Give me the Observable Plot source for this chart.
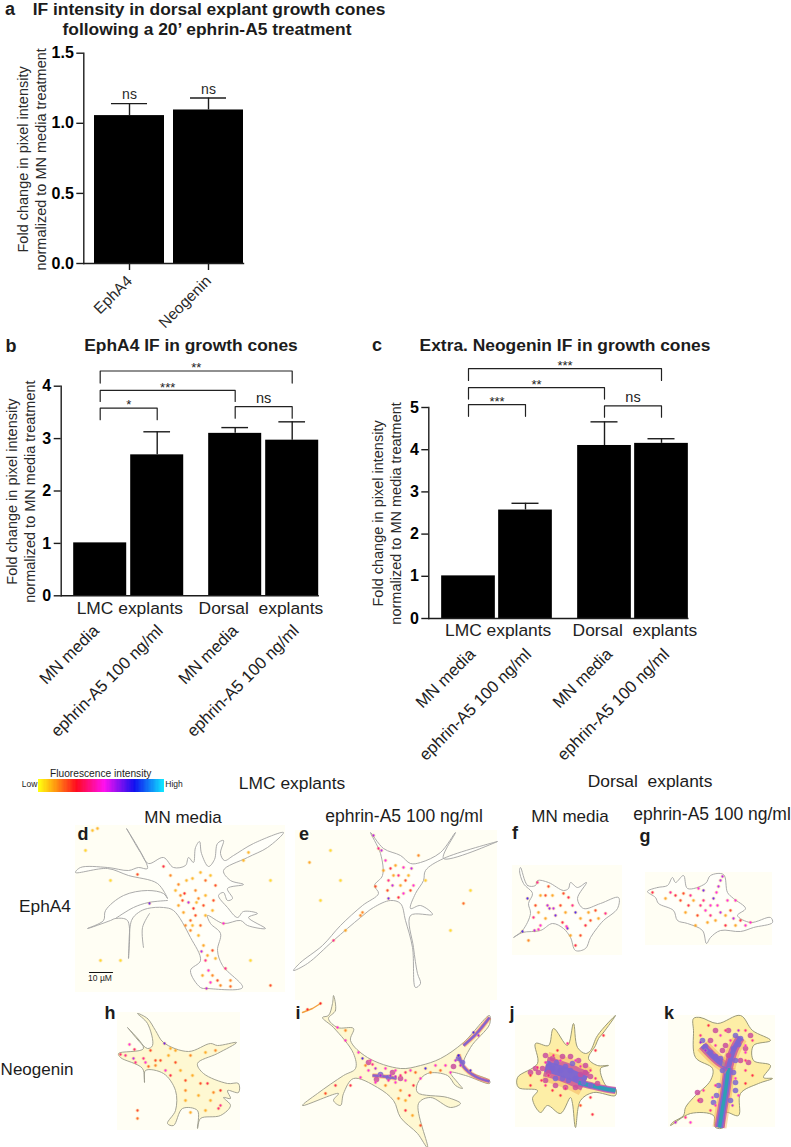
<!DOCTYPE html>
<html><head><meta charset="utf-8">
<script src="https://cdn.jsdelivr.net/npm/d3@7"></script>
<script src="https://cdn.jsdelivr.net/npm/@observablehq/plot@0.6"></script>
<style>
html,body{margin:0;padding:0;background:#fff}
#page{position:relative;width:791px;height:1147px;overflow:hidden;font-family:"Liberation Sans",Arial,sans-serif;color:#1c1c1c}
#page>svg{position:absolute}
.t{position:absolute;white-space:pre;transform:translate(-50%,-50%);line-height:1.15}
.b{font-weight:bold}
</style></head><body><div id="page"></div>
<script>
// ---------- bar chart values ----------
const aTargets = ["EphA4", "Neogenin"];
const aFold = [1.055, 1.095];
const aUpper = [1.14, 1.18];
const aMarks = ["ns", "ns"];
const conditions = ["MN media", "ephrin-A5 100 ng/ml", "MN media", "ephrin-A5 100 ng/ml"];
const bFold = [1.01, 2.69, 3.1, 2.97];
const bUpper = [null, 3.13, 3.21, 3.32];
const cFold = [1.01, 2.57, 4.1, 4.15];
const cUpper = [null, 2.73, 4.66, 4.26];
const groups = ["LMC explants", "Dorsal  explants"];
const bTicks = [0, 1, 2, 3, 4];
const cTicks = [0, 1, 2, 3, 4, 5];
const aTicks = [0, 0.5, 1, 1.5];
// brackets: from bar, to bar, bracket level, leg end level, label
const bBrackets = [[0,3,4.29,4.06,"**"],[0,2,3.92,3.71,"***"],[0,1,3.58,3.36,"*"],[2,3,3.61,3.39,"ns"]];
const cBrackets = [[0,3,5.92,5.64,"***"],[0,2,5.47,5.2,"**"],[0,1,5.07,4.79,"***"],[2,3,5.04,4.77,"ns"]];
const yTitle = ["Fold change in pixel intensity", "normalized to MN media treatment"];

// ---------- fluorescence colour key ----------
const keyLevels = [0, 0.13, 0.3, 0.52, 0.76, 1];
const keyColors = ["#ffff10", "#ff9a10", "#ff0a20", "#ff10f0", "#1010f0", "#10f0ff"];

// ---------- traced cell outlines (image pixels) ----------
const cellD = [[126,828],[130,835],[140,852],[148,863],[163,857],[173,867],[185,865],[188,857],[193,862],[195,847],[199,841],[201,853],[208,866],[214,859],[217,843],[223,840],[220,853],[224,860],[233,855],[253,843],[283,832],[267,847],[247,857],[223,870],[230,880],[243,884],[227,888],[232,898],[227,900],[223,892],[218,895],[227,907],[237,917],[243,911],[257,913],[248,917],[265,928],[247,925],[240,920],[223,923],[207,915],[210,923],[220,933],[217,950],[222,965],[242,987],[207,988],[200,987],[190,970],[200,960],[190,937],[173,910],[163,907],[147,908],[138,912],[131,920],[128,958],[127,920],[115,918],[110,920],[87,928],[103,920],[105,910],[123,895],[147,890],[163,893],[167,898],[157,883],[128,875],[107,868],[75,872],[80,867],[107,867],[128,870],[138,867],[147,868]];
const cellDInner = [[115,918],[133,907],[148,902],[167,900]];
const cellDInner2 = [[143,947],[142,927],[149,913]];
const cellE = [[293,970],[300,962],[322,945],[340,925],[362,905],[378,893],[374,885],[382,875],[380,853],[370,832],[383,848],[400,855],[410,863],[420,862],[440,852],[455,832],[443,858],[497,841],[443,858],[425,870],[423,880],[415,893],[410,908],[420,905],[432,914],[410,915],[413,947],[417,973],[420,983],[415,987],[412,947],[405,920],[400,903],[390,900],[373,907],[360,917],[333,940],[307,963]];
const cellF = [[520,867],[527,885],[535,885],[537,880],[548,882],[563,890],[568,888],[570,882],[577,887],[586,882],[577,898],[583,908],[600,903],[618,897],[617,908],[603,920],[597,927],[590,937],[585,948],[575,950],[570,937],[563,928],[552,923],[540,930],[522,932],[513,937],[522,930],[530,913],[528,903],[532,893],[523,883],[519,870]];
const cellG = [[647,891],[657,887],[667,885],[672,877],[675,882],[683,875],[687,888],[705,883],[710,875],[723,874],[727,892],[733,898],[745,908],[737,915],[750,922],[770,917],[772,922],[753,927],[740,931],[720,930],[710,937],[706,943],[702,930],[687,923],[677,920],[673,910],[658,903],[655,897]];
const cellH = [[137,1013],[147,1018],[155,1030],[163,1042],[188,1051],[210,1043],[217,1045],[236,1042],[217,1053],[197,1063],[203,1073],[227,1083],[238,1083],[238,1092],[227,1090],[230,1098],[223,1097],[230,1105],[220,1115],[200,1118],[197,1128],[197,1110],[182,1108],[173,1125],[167,1123],[175,1110],[175,1090],[163,1073],[145,1070],[144,1082],[142,1068],[120,1057],[118,1053],[143,1048],[127,1027],[147,1048],[152,1045],[147,1023]];
const cellI = [[333,995],[335,1010],[328,1018],[337,1027],[353,1028],[350,1040],[367,1057],[400,1068],[420,1065],[440,1058],[463,1042],[489,1015],[489,1024],[470,1047],[463,1067],[489,1080],[489,1083],[465,1075],[450,1072],[458,1083],[462,1088],[455,1085],[447,1075],[427,1073],[417,1083],[417,1092],[447,1097],[460,1103],[450,1107],[430,1097],[418,1103],[427,1147],[417,1133],[400,1117],[393,1100],[377,1087],[353,1078],[343,1093],[340,1105],[333,1100],[338,1093],[302,1105],[317,1093],[343,1075],[355,1068],[353,1053],[333,1027],[322,1017],[328,1015],[332,1003]];
const cellJ = [[615,1015],[603,1032],[598,1038],[595,1045],[588,1058],[597,1065],[608,1065],[600,1068],[607,1087],[615,1088],[615,1095],[593,1092],[580,1100],[575,1127],[572,1103],[570,1097],[560,1113],[547,1105],[540,1112],[532,1098],[537,1090],[518,1087],[517,1077],[537,1063],[535,1043],[548,1045],[553,1028],[567,1045],[573,1023],[577,1047],[585,1053],[590,1050],[597,1035]];
const cellK = [[693,1018],[700,1017],[717,1023],[740,1015],[752,1030],[770,1040],[753,1045],[753,1060],[770,1065],[763,1077],[772,1078],[758,1083],[740,1093],[738,1115],[725,1112],[723,1127],[715,1127],[713,1115],[690,1113],[670,1125],[672,1122],[683,1115],[685,1107],[693,1097],[710,1080],[712,1068],[695,1057],[693,1030]];

// ---------- strong-signal tracks (image pixels) ----------
const hotI = [[[489,1017],[476,1033],[463,1045]],[[489,1081],[475,1076],[463,1066],[458,1054]],[[372,1075],[384,1076],[396,1078]]];
const massJ = [[[545,1066],[556,1069],[570,1074],[585,1081]]];
const tailJ = [[[578,1082],[590,1085],[603,1088],[615,1090]]];
const hotK = [[[719,1127],[722,1108],[725,1090],[728,1067]]];
const branchK = [[[702,1045],[717,1060],[728,1067]],[[728,1067],[733,1050],[740,1037]]];
const streakI = [[302,1012],[312,1008],[320,1003]];

// ---------- fluorescence spots: x, y, level ----------
const spotsD = [[149,903,.8],[137,874,.3],[163,866,.4],[182,900,.3],[188,902,.7],[180,895,.2],[195,890,.2],[205,880,.25],[215,885,.3],[203,905,.3],[195,915,.3],[190,920,.25],[185,925,.2],[200,925,.25],[213,900,.3],[223,923,.6],[201,951,.7],[212,950,.3],[205,960,.5],[208,970,.6],[225,968,.5],[210,982,.6],[217,980,.3],[206,988,.7],[230,980,.2],[97,828,.12],[92,830,.1],[85,850,.06],[120,960,.05],[250,960,.05],[270,985,.3],[170,875,.2],[178,884,.2],[193,908,.35],[198,898,.2],[184,893,.35],[190,930,.2],
 [175,890,.12],[186,880,.12],[192,878,.12],[200,872,.12],[210,875,.1],[178,905,.15],[183,912,.15],[196,902,.12],[205,895,.12],[192,925,.12],[198,935,.12],[205,915,.12],[212,910,.12],[203,945,.15],[207,955,.15],[215,958,.12],[212,975,.2],[202,975,.15],[220,985,.2],[230,986,.25],[243,860,.12],[248,852,.12],[270,880,.05],[100,960,.06],[110,880,.05]];
const spotsE = [[373,835,.7],[378,848,.5],[381,850,.7],[385,860,.6],[390,868,.4],[388,880,.5],[392,885,.7],[387,890,.3],[398,875,.5],[403,867,.6],[411,868,.7],[405,880,.3],[413,885,.6],[403,893,.6],[398,897,.4],[410,890,.3],[388,898,.8],[362,912,.2],[463,903,.25],[309,862,.15],[425,880,.08],[333,940,.5],[375,886,.3],[418,855,.2],
 [395,865,.15],[400,885,.15],[408,875,.12],[383,870,.15],[393,875,.15],[360,915,.2],[345,930,.15],[470,890,.05],[450,930,.05],[340,880,.05],[330,850,.05],[320,900,.05]];
const spotsF = [[537,882,.5],[548,886,.3],[547,905,.7],[549,908,.75],[553,908,.7],[535,905,.3],[533,917,.5],[540,925,.6],[522,931,.85],[534,930,.7],[538,929,.6],[555,915,.8],[562,922,.4],[566,926,.6],[567,928,.8],[563,893,.3],[568,897,.4],[575,912,.85],[572,905,.5],[585,925,.4],[590,920,.3],[605,913,.5],[580,935,.3],[575,945,.4],[527,898,.85],[545,895,.3],[560,905,.3],[595,910,.3],[528,940,.2],
 [540,895,.15],[552,895,.15],[565,912,.15],[580,918,.15],[588,912,.15],[598,918,.15],[570,935,.15],[545,918,.15],[538,912,.15]];
const spotsG = [[722,876,.7],[720,880,.7],[718,886,.7],[716,892,.6],[703,890,.8],[698,888,.6],[683,893,.3],[675,895,.4],[670,892,.5],[680,900,.3],[690,895,.5],[703,900,.5],[705,910,.6],[710,905,.6],[713,898,.8],[717,905,.6],[700,905,.5],[710,915,.5],[727,900,.6],[730,910,.3],[735,900,.6],[733,918,.7],[745,925,.6],[750,922,.6],[740,920,.4],[652,892,.4],[725,925,.4],[697,915,.3],[688,905,.4],[720,912,.7],
 [665,898,.15],[685,912,.15],[693,900,.15],[707,922,.15],[715,920,.15],[725,915,.15],[735,925,.15],[695,925,.15]];
const spotsH = [[120,1054,.45],[125,1055,.5],[133,1058,.7],[145,1062,.6],[143,1058,.5],[135,1062,.5],[129,1044,.6],[134,1049,.45],[164,1043,.8],[165,1070,.6],[175,1062,.3],[170,1075,.4],[185,1080,.3],[200,1083,.3],[207,1083,.4],[185,1090,.2],[220,1090,.35],[218,1108,.45],[220,1105,.5],[137,1110,.3],[137,1118,.25],[155,1060,.3],[150,1050,.3],[160,1060,.3],[190,1055,.2],[215,1050,.2],[175,1050,.15],
 [168,1055,.14],[180,1070,.14],[192,1075,.14],[198,1095,.14],[210,1100,.14],[185,1100,.14],[205,1110,.14],[190,1112,.14],[155,1065,.2],[148,1066,.25],[170,1048,.14],[205,1052,.14],[213,1092,.2]];
const spotsI = [[320,1003,.35],[307,1009,.35],[337,1027,.6],[345,1040,.6],[358,1052,.6],[362,1058,.85],[370,1060,.6],[375,1068,.7],[368,1070,.6],[380,1075,.7],[390,1075,.7],[395,1070,.6],[360,1077,.6],[350,1085,.4],[335,1085,.4],[325,1093,.3],[385,1068,.6],[395,1082,.6],[375,1082,.6],[410,1070,.6],[420,1078,.6],[435,1065,.6],[445,1065,.6],[455,1060,.7],[458,1055,.85],[460,1065,.7],[450,1072,.6],[405,1080,.6],[425,1068,.85],[405,1110,.4],[420,1125,.3],[409,1095,.4],[413,1085,.4],[470,1070,.85],[478,1035,.75],[473,1032,.85],
 [400,1090,.2],[405,1100,.15],[412,1115,.15],[398,1098,.2],[385,1085,.2],[365,1065,.2],[345,1030,.2],[430,1072,.2],[440,1070,.25],[415,1072,.25],[400,1075,.5],[372,1064,.5],[405,1072,.45],[395,1076,.7],[388,1080,.55]];
const spotsJ = [[537,1067,.5],[545,1062,.55],[548,1075,.5],[553,1055,.5],[557,1050,.4],[560,1060,.6],[575,1060,.6],[580,1066,.55],[590,1070,.5],[595,1078,.5],[552,1090,.4],[560,1095,.4],[530,1085,.4],[595,1050,.4],[603,1035,.4],[580,1105,.3],[590,1097,.4],[545,1085,.5],[567,1043,.5],[592,1114,.4],[541,1080,.45],[565,1088,.5],[530,1075,.4]];
const spotsK = [[700,1035,.5],[708,1025,.4],[725,1030,.5],[745,1030,.5],[745,1045,.6],[752,1040,.5],[705,1050,.7],[700,1042,.75],[745,1060,.5],[745,1070,.5],[752,1075,.4],[698,1100,.5],[703,1090,.55],[715,1105,.6],[738,1095,.6],[732,1105,.7],[710,1110,.5],[720,1035,.6],[738,1030,.7],[690,1122,.6],[675,1122,.7],[685,1117,.5],[745,1083,.4],[730,1040,.55],[715,1045,.55],[745,1052,.6],[735,1078,.6],[715,1085,.55],[712,1097,.6]];
const mottleJ = [[548,1063,.7],[552,1068,.75],[556,1062,.7],[560,1070,.8],[565,1066,.75],[570,1070,.8],[572,1063,.7],[548,1072,.65],[555,1078,.7],[562,1078,.8],[568,1080,.75],[575,1078,.8],[580,1074,.65],[585,1072,.6],[590,1076,.6],[583,1082,.8],[542,1068,.6],[538,1072,.55],[535,1068,.5],[530,1072,.5],[552,1058,.6],[562,1056,.6],[570,1056,.55],[578,1060,.6],[585,1065,.55],[545,1080,.5],[555,1085,.55],[565,1087,.55],[575,1087,.6],[590,1085,.7],[597,1083,.55],[545,1055,.5]];
const mottleK = [[702,1040,.75],[705,1046,.75],[710,1052,.7],[715,1056,.75],[720,1058,.7],[735,1035,.75],[740,1038,.78],[738,1044,.75],[733,1048,.7],[745,1048,.6],[725,1045,.6],[728,1055,.65],[722,1070,.75],[733,1072,.7],[735,1082,.75],[735,1090,.7],[718,1085,.75],[716,1095,.75],[713,1102,.7],[730,1100,.7],[722,1050,.55],[710,1040,.5],[750,1035,.5],[740,1060,.55],[748,1062,.5],[728,1030,.55],[715,1030,.5],[700,1100,.5],[697,1092,.5],[735,1060,.7]];
const mottleI = [[380,1074,.72],[388,1077,.72],[376,1079,.6],[392,1072,.6],[458,1058,.7],[462,1062,.7],[453,1066,.55],[368,1062,.6],[400,1078,.55]];
const panelFields = [[75,825,285,992],[295,830,497,1000],[512,865,622,955],[645,872,772,945],[117,1012,240,1130],[300,995,490,1147],[515,1015,615,1127],[668,1015,775,1127]];

// ---------- helpers ----------
const page = document.getElementById("page");
const font = '"Liberation Sans",Arial,sans-serif';
const ink = "#1c1c1c";
function label(text, cx, cy, size, bold) {
  const el = document.createElement("div");
  el.className = "t" + (bold ? " b" : "");
  el.textContent = text;
  el.style.left = cx + "px"; el.style.top = cy + "px"; el.style.fontSize = size + "px";
  page.appendChild(el);
}
function place(svg, left, top) { svg.style.left = left + "px"; svg.style.top = top + "px"; page.appendChild(svg); }

function barPanel(o) {
  const xOf = i => i + (i >= 2 ? o.gap : 0);
  const rows = o.fold.map((v, i) => ({i, x: xOf(i), v, up: o.upper[i], name: o.names[i]}));
  const errs = rows.filter(d => d.up != null);
  const yMid = o.yMax * o.titleAt;
  const marks = [
    Plot.rect(rows, {x1: d => d.x - o.half, x2: d => d.x + o.half, y1: 0, y2: "v", fill: "#000"}),
    Plot.ruleX(errs, {x: "x", y1: "v", y2: "up", stroke: ink, strokeWidth: 1.4}),
    Plot.ruleY(errs, {y: "up", x1: d => d.x - o.cap, x2: d => d.x + o.cap, stroke: ink, strokeWidth: 1.4}),
    Plot.frame({anchor: "left", stroke: ink, strokeWidth: 1.4}),
    Plot.frame({anchor: "bottom", stroke: ink, strokeWidth: 1.4}),
    Plot.axisY({ticks: o.ticks, tickFormat: o.fmt, tickSize: 7, tickPadding: 3, fontSize: 16, fontWeight: "bold", stroke: ink, strokeWidth: 1.4, fill: "#000", label: null}),
    Plot.text([yTitle[0]], {frameAnchor: "left", y: () => yMid, dx: o.t1 - o.left, rotate: -90, fontSize: 14.5, textAnchor: "middle", fill: "#2a2a2a"}),
    Plot.text([yTitle[1]], {frameAnchor: "left", y: () => yMid, dx: o.t2 - o.left, rotate: -90, fontSize: 14.5, textAnchor: "middle", fill: "#2a2a2a"})
  ];
  if (o.ticked) {
    marks.push(Plot.axisX({ticks: rows.map(d => d.x), tickFormat: i => o.names[i], tickRotate: -45, tickSize: 7, tickPadding: 8, fontSize: 15.5, stroke: ink, strokeWidth: 1.4, fill: "#2a2a2a", label: null}));
    marks.push(Plot.text(rows, {x: "x", y: "up", text: d => aMarks[d.i], dy: -9, fontSize: 14, fill: "#2a2a2a"}));
  } else {
    rows.forEach((r, k) => {
      marks.push(Plot.text([r], {x: "x", y: 0, text: "name", rotate: -45, textAnchor: "end", fontSize: 16.7, fill: "#222", dx: o.labelDx[k], dy: o.dy}));
    });
    const gr = o.groupAt.map((c, i) => ({c, name: groups[i]}));
    marks.push(Plot.text(gr, {x: "c", y: 0, text: "name", dy: o.groupDy, fontSize: 17.4, fill: "#222"}));
    const pts = [];
    o.brackets.forEach((b, k) => {
      pts.push({k, x: xOf(b[0]), y: b[3]}, {k, x: xOf(b[0]), y: b[2]}, {k, x: xOf(b[1]), y: b[2]}, {k, x: xOf(b[1]), y: b[3]});
    });
    marks.push(Plot.line(pts, {x: "x", y: "y", z: "k", stroke: "#222", strokeWidth: 1.2, curve: "linear"}));
    const blabs = o.brackets.map(b => ({x: (xOf(b[0]) + xOf(b[1])) / 2, y: b[2], t: b[4]}));
    marks.push(Plot.text(blabs.filter(d => d.t !== "ns"), {x: "x", y: "y", text: "t", dy: -3, fontSize: 13, fill: "#222"}));
    marks.push(Plot.text(blabs.filter(d => d.t === "ns"), {x: "x", y: "y", text: "t", dy: -8, fontSize: 14.5, fill: "#222"}));
  }
  const svg = Plot.plot({
    width: o.width, height: o.height,
    marginLeft: o.left, marginRight: o.width - o.right, marginTop: o.top, marginBottom: o.height - o.bottom,
    x: {type: "linear", domain: [0, xOf(o.fold.length - 1)], range: o.xRange, axis: null},
    y: {domain: [0, o.yMax], axis: null},
    style: {fontFamily: font, background: "transparent", overflow: "visible"},
    marks
  });
  place(svg, o.px, o.py);
}

// ---------- panels a, b, c ----------
barPanel({px: 0, py: 0, width: 400, height: 335, left: 83.3, right: 243, top: 52.7, bottom: 263,
  fold: aFold, upper: aUpper, names: aTargets, gap: 0, xRange: [129, 208], half: .443, cap: .228,
  yMax: 1.5, ticks: aTicks, fmt: d3.format(".1f"), ticked: true, t1: 22.7, t2: 41, titleAt: .495});
barPanel({px: 0, py: 335, width: 365, height: 420, left: 60.7, right: 317.7, top: 50.7, bottom: 260.3,
  fold: bFold, upper: bUpper, names: conditions, gap: .368, xRange: [99.7, 291.7], half: .465, cap: .234,
  yMax: 4, ticks: bTicks, fmt: d3.format("d"), ticked: false, t1: 11.7, t2: 30, titleAt: .497,
  brackets: bBrackets, groupAt: [.52, 2.82], groupDy: 13, dy: 32, labelDx: [-4, 3, 0, 4]});
barPanel({px: 365, py: 335, width: 370, height: 420, left: 63.3, right: 322.3, top: 72, bottom: 283,
  fold: cFold, upper: cUpper, names: conditions, gap: .386, xRange: [103, 296], half: .471, cap: .237,
  yMax: 5, ticks: cTicks, fmt: d3.format("d"), ticked: false, t1: 12.7, t2: 30.7, titleAt: .498,
  brackets: cBrackets, groupAt: [.52, 2.92], groupDy: 12, dy: 33, labelDx: [4, 3, 5, 5]});

// ---------- micrographs ----------
const pt = {x: d => d[0], y: d => d[1]};
const pale = [cellD, cellE, cellF, cellG];
const rich = [cellH, cellI];
const deep = [cellJ, cellK];
const allSpots = [...spotsD, ...spotsE, ...spotsF, ...spotsG, ...spotsH, ...spotsI, ...spotsJ, ...spotsK];
const allMottle = [...mottleI, ...mottleJ, ...mottleK];
function hotMarks(paths, halo, mid, core, teal) {
  const m = [];
  paths.forEach(p => {
    const s = {...pt, strokeLinecap: "butt", curve: "catmull-rom"};
    if (halo) m.push(Plot.line(p, {...s, stroke: "#f4a850", strokeOpacity: .45, strokeWidth: halo}));
    if (mid) m.push(Plot.line(p, {...s, stroke: "#c9509e", strokeOpacity: .8, strokeWidth: mid}));
    if (core) m.push(Plot.line(p, {...s, stroke: "#8068cf", strokeWidth: core}));
    if (teal) m.push(Plot.line(p, {...s, stroke: "#2f9fb5", strokeWidth: teal}));
  });
  return m;
}
const micro = Plot.plot({
  width: 791, height: 387, margin: 0,
  x: {domain: [0, 791], range: [0, 791], axis: null},
  y: {domain: [760, 1147], range: [0, 387], axis: null},
  color: {type: "linear", domain: keyLevels, range: keyColors, interpolate: "rgb"},
  style: {fontFamily: font, background: "transparent"},
  marks: [
    Plot.rect(d3.range(0, 1, 0.01), {x1: d => 38 + 126 * d, x2: d => 38 + 126 * (d + 0.012), y1: 779, y2: 792, fill: d => d, shapeRendering: "crispEdges"}),
    Plot.rect(panelFields, {x1: d => d[0], y1: d => d[1], x2: d => d[2], y2: d => d[3], fill: "#fffef4"}),
    ...pale.map(c => Plot.line(c, {...pt, curve: "catmull-rom-closed", fill: "#fffffa", stroke: "#a2a2a2", strokeWidth: 0.9})),
    Plot.line(cellDInner, {...pt, curve: "catmull-rom", stroke: "#a2a2a2", strokeWidth: 0.9}),
    Plot.line(cellDInner2, {...pt, curve: "catmull-rom", stroke: "#a2a2a2", strokeWidth: 0.9}),
    ...rich.map(c => Plot.line(c, {...pt, curve: "catmull-rom-closed", fill: "#fef8d2", stroke: "#99998a", strokeWidth: 0.9})),
    ...deep.map(c => Plot.line(c, {...pt, curve: "catmull-rom-closed", fill: "#fdeea6", stroke: "#8f8f70", strokeWidth: 0.9})),
    Plot.line(streakI, {...pt, stroke: "#f2a040", strokeWidth: 1.4}),
    ...hotMarks(hotI, 5, 3.2, 2, 0),
    ...hotMarks(massJ, 30, 20, 11, 0),
    ...hotMarks(tailJ, 0, 7, 5, 3.5),
    ...hotMarks(hotK, 14, 10, 7, 3.5),
    ...hotMarks(branchK, 14, 9, 5, 0),
    Plot.dot(allMottle, {...pt, r: 2.8, fill: d => d[2] >= .68 ? "#7c66d2" : "#c94f9e", fillOpacity: .85, stroke: null}),
    Plot.dot(allSpots, {...pt, r: 2.1, fill: "#f8c060", fillOpacity: .35, stroke: null}),
    Plot.dot(allSpots, {...pt, r: 1.15, fill: d => d[2] * .85, fillOpacity: .85, stroke: null}),
    Plot.line([[89, 972], [112, 972]], {...pt, stroke: "#111", strokeWidth: 1.2})
  ]
});
place(micro, 0, 760);

// ---------- titles and labels ----------
label("a", 10, 9, 18, true);
label("IF intensity in dorsal explant growth cones", 209, 9, 17.4, true);
label("following a 20\u2019 ephrin-A5 treatment", 207, 29, 17.4, true);
label("b", 11, 346, 18, true);
label("EphA4 IF in growth cones", 191, 345, 17.4, true);
label("c", 377, 345, 18, true);
label("Extra. Neogenin IF in growth cones", 565, 345, 17.4, true);
label("Fluorescence intensity", 100.7, 774, 10.2);
label("Low", 29.5, 785, 8.5);
label("High", 174, 785, 8.5);
label("LMC explants", 292, 783, 17.4);
label("Dorsal  explants", 650, 781, 17.4);
label("MN media", 183, 818, 17);
label("ephrin-A5 100 ng/ml", 404, 816, 17.5);
label("MN media", 570, 817, 17);
label("ephrin-A5 100 ng/ml", 712, 814, 17.5);
label("EphA4", 45, 907, 17.3);
label("Neogenin", 37, 1070, 17);
label("10 \u00b5M", 100, 979, 8.5);
label("d", 83, 834, 18, true);
label("e", 304, 834, 18, true);
label("f", 515, 833, 18, true);
label("g", 645, 836, 18, true);
label("h", 110, 1013, 18, true);
label("i", 298, 1013, 18, true);
label("j", 512, 1013, 18, true);
label("k", 669, 1013, 18, true);
</script></body></html>
